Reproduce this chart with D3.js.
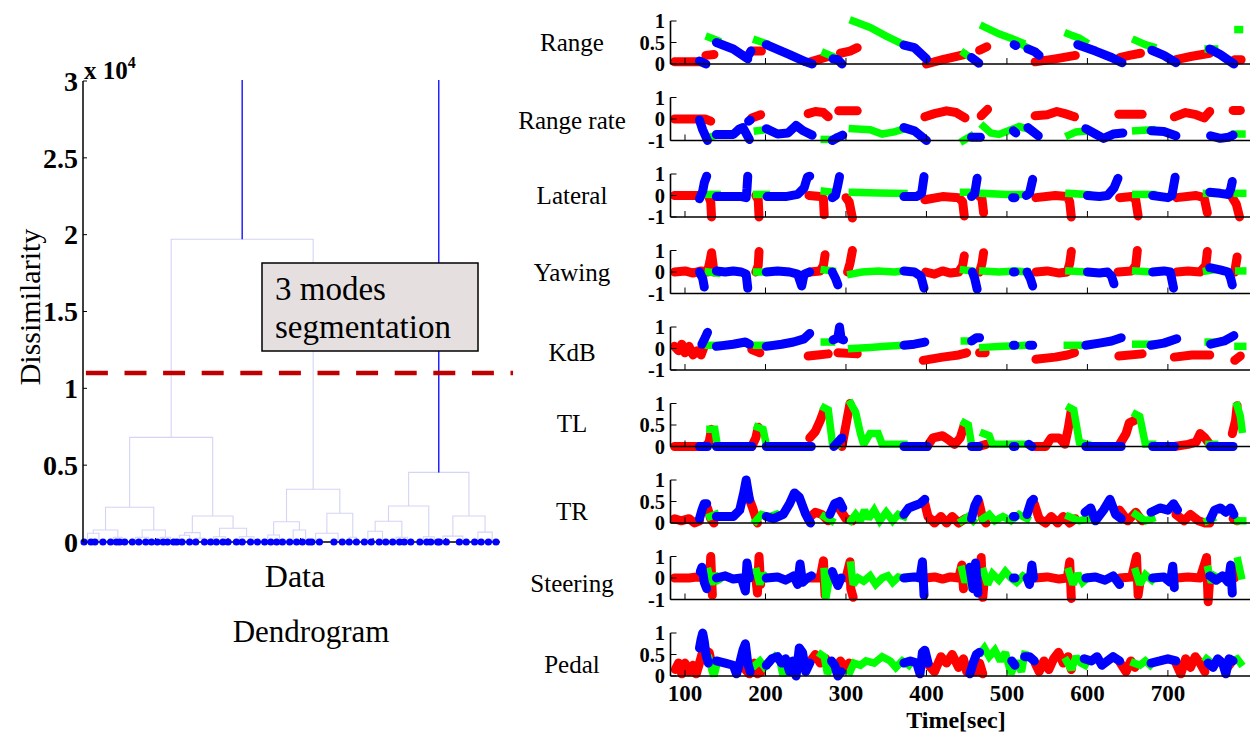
<!DOCTYPE html>
<html><head><meta charset="utf-8">
<script src="https://cdn.jsdelivr.net/npm/d3@7/dist/d3.min.js"></script>
<style>
body{margin:0;background:#fff}
svg{display:block}
text{font-family:"Liberation Serif","Times New Roman",serif;fill:#000}
</style>
</head><body>
<svg id="chart" width="1250" height="738"></svg>
<script>
// ---------------- DATA ----------------
// Dendrogram (heights in units of 1e4, leaf positions = data index)
const dendroYTicks = [0, 0.5, 1, 1.5, 2, 2.5, 3];
const dendroYTickLabels = ["0", "0.5", "1", "1.5", "2", "2.5", "3"];
const dendroXTicks = [200, 400, 600, 800, 1000];
const thresholdValue = 1.1;
const annotationLines = ["3 modes", "segmentation"];
const dendroTree =
[3.3,
  [1.97,
    [0.681,
      [0.226,
        [0.078,
          [0.057,[0.01,3,22],[0.013,33,55]],
          [0.031,[0.008,76,92],[0.008,101,115]]],
        [0.078,
          [0.031,[0.01,136,154],[0.01,173,189]],
          [0.031,[0.008,205,221],[0.008,233,250]]]],
      [0.169,
        [0.061,[0.044,[0.008,259,273],294],[0.024,311,335]],
        [0.089,
          [0.034,[0.02,352,368],[0.008,386,400]],
          [0.034,[0.01,423,439],[0.01,462,481]]]]],
    [0.343,
      [0.132,
        [0.046,[0.008,501,518],[0.008,534,550]],
        [0.078,[0.01,570,589],[0.01,605,623]]],
      [0.187,
        [0.057,[0.012,631,652],[0.015,692,715]],
        [0.031,734,754]]]],
  [0.453,
    [0.234,
      [0.135,
        [0.07,[0.01,776,795],[0.01,817,835]],
        [0.031,[0.008,854,873],[0.008,886,904]]],
      [0.034,[0.01,929,948],[0.01,959,978]]],
    [0.169,
      [0.038,[0.012,983,1002],[0.01,1038,1057]],
      [0.064,[0.01,1080,1098],[0.012,1118,1139]]]]];

// Time series panels
const panelNames = ["Range", "Range rate", "Lateral", "Yawing", "KdB", "TL", "TR", "Steering", "Pedal"];
const panelTicks = [[0,0.5,1],[-1,0,1],[-1,0,1],[-1,0,1],[-1,0,1],[0,0.5,1],[0,0.5,1],[-1,0,1],[0,0.5,1]];
const timeTicks = [100, 200, 300, 400, 500, 600, 700];
const timeDomain = [82, 802];

const rangeSeg = [
["r",[[87,.05],[121,.05]]],["b",[[118,.07],[126,0]]],["r",[[126,.2],[136,.22]]],["g",[[130,.62],[140,.55]]],
["b",[[139,.5],[160,.35],[178,.12]]],["b",[[177,.15],[182,.3]]],["r",[[182,.3],[195,.3]]],["g",[[189,.55],[200,.48]]],
["b",[[201,.45],[230,.22],[250,.05],[258,0]]],["r",[[256,.05],[279,.18]]],["g",[[274,.25],[283,.18]]],
["b",[[284,.12],[290,.1],[295,0]]],["r",[[293,.25],[305,.3],[314,.38]]],["g",[[309,1],[330,.85],[350,.65],[372,.45]]],
["b",[[372,.44],[385,.38],[400,.12]]],["r",[[400,0],[420,.1],[447,.22]]],["g",[[447,.25],[455,.15]]],
["b",[[456,.15],[465,.02]]],["r",[[466,.32],[475,.4]]],["g",[[471,.87],[490,.7],[505,.6],[518,.5]]],
["b",[[509,.45],[511,.43]]],["g",[[519,.45],[528,.35]]],["b",[[526,.35],[535,.28],[540,.2]]],
["r",[[535,.05],[560,.12],[585,.2]]],["g",[[576,.7],[590,.6],[597,.52]]],["b",[[588,.45],[610,.3],[630,.15],[643,.03]]],
["r",[[640,.15],[652,.2],[666,.25]]],["g",[[660,.55],[672,.45],[681,.4]]],["b",[[680,.32],[695,.2],[710,.03]]],
["r",[[710,.1],[730,.18],[752,.25]]],["g",[[750,.35],[758,.35]]],["b",[[752,.35],[765,.22],[782,0]]],
["r",[[783,.1],[791,.1]]],["g",[[787,.8],[789,.8]]]
];
const rangeRateSeg = [
["r",[[87,0],[125,0],[132,-0.1]]],["b",[[118,-0.05],[122,-0.5],[128,-1]]],["g",[[130,-0.85],[140,-0.75]]],
["b",[[139,-0.72],[160,-0.72],[168,-0.45],[172,-0.4],[180,-0.95]]],["b",[[179,-0.1],[181,-0.05]]],
["r",[[183,0.05],[194,0.2]]],["g",[[190,-0.55],[200,-0.5]]],
["b",[[201,-0.45],[215,-0.7],[228,-0.65],[238,-0.3],[247,-0.55],[258,-0.75]]],
["r",[[253,0.25],[262,0.35],[272,0.3],[278,0.1]]],["g",[[273,-0.95],[282,-0.95]]],["b",[[283,-1],[290,-0.85],[296,-0.75]]],
["r",[[291,0.38],[314,0.38]]],["g",[[308,-0.45],[330,-0.5],[345,-0.7],[360,-0.6],[373,-0.45]]],
["b",[[372,-0.4],[385,-0.55],[400,-1]]],["r",[[398,0.1],[410,0.25],[425,0.38],[437,0.3],[448,0.05]]],
["g",[[446,-1],[455,-0.8]]],["b",[[456,-0.85],[467,-0.85]]],["r",[[468,0.15],[476,0.45]]],
["g",[[471,-0.35],[480,-0.65],[490,-0.72],[505,-0.5],[515,-0.35],[525,-0.45]]],["b",[[508,-0.55],[511,-0.65]]],
["b",[[526,-0.4],[539,-0.78]]],["r",[[535,0.15],[550,0.2],[562,0.35],[572,0.25],[584,0.1]]],
["g",[[577,-0.75],[586,-0.6],[600,-0.55]]],["b",[[598,-0.45],[610,-0.7],[620,-0.9],[632,-0.7],[644,-0.65]]],
["r",[[639,0.22],[668,0.22]]],["g",[[660,-0.55],[680,-0.5]]],["b",[[679,-0.55],[695,-0.58],[710,-0.78]]],
["r",[[708,0.1],[722,0.3],[735,0.2],[745,0.05],[752,0.35]]],["b",[[753,-0.78],[765,-0.9],[775,-0.85],[781,-0.75]]],
["g",[[783,-0.7],[792,-0.7]]],["r",[[781,0.4],[790,0.4]]]
];
const lateralSeg = [
["r",[[87,0],[116,0]]],["b",[[118,-0.15],[122,0.2],[124,0.6],[127,0.9]]],["r",[[129,0],[132,-0.3],[133,-1]]],
["g",[[129,0.05],[140,0.05]]],["b",[[139,-0.05],[170,-0.05],[176,-0.1],[177,0.3],[178,0.9]]],
["r",[[188,0],[191,-0.2],[192,-1]]],["g",[[189,0.05],[201,0.05]]],
["b",[[202,-0.05],[225,-0.05],[240,0.05],[248,0.35],[252,0.85],[255,0.9]]],
["r",[[254,0],[268,-0.05],[272,-0.15],[273,-0.9]]],["g",[[273,0.2],[283,0.15]]],["b",[[283,-0.1],[287,0],[290,0.5],[292,0.88]]],
["r",[[300,-0.1],[304,-0.3],[308,-1.05]]],["g",[[308,0.15],[340,0.12],[372,0.1]]],
["b",[[372,-0.05],[388,-0.05],[394,0.1],[397,0.88]]],["r",[[398,-0.2],[420,-0.05],[440,-0.1],[445,-0.3],[447,-0.95]]],
["g",[[446,0.15],[456,0.15]]],["b",[[456,-0.05],[460,0.1],[463,0.8]]],["r",[[465,0],[469,-0.15],[471,-0.8]]],
["g",[[470,0.1],[500,0.05],[525,0.05]]],["b",[[507,-0.1],[510,-0.1]]],["b",[[524,0],[528,0.1],[532,0.75]]],
["r",[[536,-0.1],[560,0],[575,-0.05],[578,-0.3],[580,-1]]],["g",[[577,0.1],[600,0.05]]],
["b",[[600,0],[615,-0.05],[625,0],[633,0.35],[638,0.8]]],["r",[[640,-0.1],[655,-0.05],[660,-0.2],[663,-0.95]]],
["g",[[660,0.05],[681,0.05]]],["b",[[681,0],[700,-0.1],[705,0],[709,0.85]]],
["r",[[711,-0.1],[735,0],[745,-0.1],[749,-0.8]]],["g",[[748,0.1],[756,0.1]]],
["b",[[752,0.15],[765,0.1],[775,0.05],[778,0.3],[780,0.65]]],["r",[[780,-0.1],[785,-0.4],[789,-1]]],
["g",[[786,0.1],[793,0.1]]]
];
const yawingSeg = [
["r",[[87,0],[100,0.05],[110,-0.05],[120,0.05],[128,0],[131,0.5],[133,0.9],[136,0]]],["b",[[118,0],[122,-0.3],[124,-0.7]]],
["g",[[129,0],[140,-0.05]]],["b",[[139,0.05],[150,0],[160,0.05],[170,0],[176,-0.1],[178,-0.75]]],
["r",[[188,0],[191,0.3],[192,0.95]]],["g",[[189,0],[201,0]]],
["b",[[201,0],[215,0.05],[230,0],[240,-0.1],[245,-0.65],[248,-0.1],[255,0]]],
["r",[[255,0],[268,0.05],[272,0.3],[274,0.8]]],["g",[[273,0.1],[283,0.05]]],["b",[[283,0],[287,-0.3],[290,-0.6]]],
["r",[[302,0],[305,0.4],[308,1]]],["g",[[306,-0.1],[320,0],[340,0.05],[360,0],[372,0.05]]],
["b",[[372,0.05],[385,0],[393,-0.2],[397,-0.75]]],
["r",[[399,0],[410,-0.1],[420,0.05],[430,-0.05],[440,0],[445,0.3],[447,0.75]]],["g",[[446,0.1],[456,0.05]]],
["b",[[457,0],[460,-0.3],[463,-0.8]]],["r",[[466,0],[469,0.4],[471,0.9]]],
["g",[[470,0.05],[490,0],[510,0.05],[525,0]]],["b",[[508,0],[510,0]]],["b",[[525,0],[529,-0.3],[532,-0.65]]],
["r",[[536,0],[550,0.05],[565,-0.05],[575,0],[578,0.4],[580,0.95]]],["g",[[577,0.05],[600,0]]],
["b",[[600,0],[615,-0.05],[625,0],[630,-0.2],[633,-0.55]]],["r",[[638,0],[655,0.05],[660,0.3],[662,1]]],
["g",[[660,0.05],[681,0]]],["b",[[681,0],[695,0.05],[703,0],[707,-0.75]]],
["r",[[711,0],[725,0.05],[740,0],[747,0.3],[749,0.95]]],["g",[[748,0.05],[756,0.1]]],
["b",[[752,0.2],[765,0.1],[775,0],[778,-0.3],[780,-0.6]]],["r",[[783,0],[786,0.7]]],["g",[[788,0.05],[793,0.05]]]
];
const kdbSeg = [
["r",[[87,0.1],[92,-0.1],[96,0.2],[100,-0.2],[105,0.1],[110,-0.3],[115,-0.1],[120,-0.3],[123,0]]],
["b",[[121,0.2],[125,0.5],[128,0.75]]],["g",[[129,0.15],[140,0.15]]],["b",[[139,0.1],[160,0.2],[175,0.3],[180,0.2]]],
["r",[[183,-0.05],[193,-0.2]]],["g",[[189,0.15],[203,0.15]]],["b",[[201,0.1],[220,0.2],[235,0.3],[248,0.45],[255,0.7]]],
["r",[[253,-0.35],[265,-0.3],[278,-0.25]]],["g",[[273,0.3],[282,0.3]]],["b",[[284,0.4],[290,0.5],[292,1],[294,0.45],[297,0.4]]],
["r",[[290,-0.2],[314,-0.25]]],["g",[[307,0],[330,0.05],[350,0.1],[372,0.15]]],["b",[[372,0.15],[385,0.2],[398,0.3]]],
["r",[[396,-0.55],[420,-0.4],[440,-0.3],[450,-0.2]]],["g",[[447,0.35],[455,0.35]]],["b",[[456,0.35],[462,0.5],[466,0.5]]],
["r",[[466,-0.2],[473,-0.2]]],["g",[[470,0.05],[495,0.1],[525,0.15]]],["b",[[508,0.15],[510,0.15]]],["b",[[528,0.15],[532,0.15]]],
["r",[[536,-0.5],[560,-0.4],[575,-0.3],[584,-0.2]]],["g",[[575,0.15],[600,0.15]]],
["b",[[598,0.15],[615,0.25],[630,0.35],[642,0.5]]],["r",[[639,-0.35],[668,-0.25]]],["g",[[660,0.2],[681,0.2]]],
["b",[[679,0.15],[695,0.25],[711,0.45]]],["r",[[708,-0.4],[730,-0.3],[752,-0.3]]],["g",[[750,0.3],[758,0.3]]],
["b",[[753,0.2],[770,0.35],[782,0.6]]],["r",[[783,-0.55],[790,-0.35]]],["g",[[787,0.1],[793,0.1]]]
];
const tlSeg = [
["r",[[87,0],[125,0],[130,0.1],[133,0.4]]],["b",[[118,0],[128,0]]],["g",[[131,0.4],[137,0.4],[140,0.05]]],
["b",[[139,0],[183,0]]],["r",[[183,0],[188,0.2],[191,0.45]]],["g",[[190,0.45],[197,0.4],[201,0.05]]],
["b",[[201,0],[257,0]]],["r",[[255,0.2],[262,0.35],[268,0.6],[273,0.85]]],["g",[[273,0.9],[278,0.85],[283,0.1],[290,0.05]]],
["b",[[285,0],[290,0.1],[295,0.2]]],["r",[[295,0],[300,0.5],[305,1]]],
["g",[[306,1],[312,0.8],[318,0.3],[322,0.05],[330,0.3],[340,0.3],[345,0.05],[372,0.05]]],
["b",[[372,0],[401,0]]],["r",[[401,0],[408,0.2],[420,0.25],[428,0.15],[435,0.05],[442,0.2],[447,0.5]]],
["g",[[447,0.55],[452,0.5],[456,0.05]]],["b",[[456,0],[465,0]]],["r",[[465,0],[474,0.05]]],
["g",[[471,0.3],[478,0.25],[482,0.05],[525,0.05]]],["b",[[508,0],[510,0]]],["b",[[527,0.05],[531,0]]],
["r",[[535,0],[548,0],[555,0.2],[565,0.2],[572,0.05],[576,0.4],[580,0.85]]],["g",[[578,0.9],[583,0.85],[590,0.1],[600,0.05]]],
["b",[[598,0],[642,0]]],["r",[[640,0.05],[648,0.3],[652,0.55],[658,0.6],[662,0.7]]],
["g",[[660,0.75],[665,0.7],[672,0.05],[681,0.05]]],["b",[[681,0],[708,0]]],
["r",[[708,0],[725,0.05],[735,0.1],[740,0.3],[746,0.2],[752,0.05]]],["g",[[751,0.05],[758,0.05]]],
["b",[[753,0],[781,0]]],["r",[[780,0.3],[784,0.6],[786,0.95]]],["g",[[786,0.95],[790,0.7],[792,0.4]]]
];
const trSeg = [
["r",[[87,0.1],[95,0.05],[105,0.1],[112,0],[118,0.05]]],["b",[[118,0.1],[121,0.3],[124,0.45],[127,0.45]]],
["r",[[128,0.35],[132,0.1],[136,0]]],["g",[[131,0.15],[138,0.2]]],
["b",[[139,0.15],[160,0.15],[168,0.3],[173,0.7],[176,1],[180,0.55]]],["r",[[179,0.6],[184,0.35],[190,0]]],
["g",[[188,0.05],[195,0.2],[205,0.15],[213,0.2]]],
["b",[[201,0.15],[210,0.1],[222,0.2],[230,0.45],[236,0.7],[242,0.6],[250,0.2],[256,0]]],
["r",[[253,0.1],[262,0.25],[270,0.2],[278,0.05]]],["g",[[273,0.15],[282,0.05]]],["b",[[280,0.2],[286,0.45],[292,0.5],[296,0.35]]],
["r",[[293,0.3],[300,0.1],[308,0.05]]],
["g",[[306,0.05],[312,0.2],[318,0.05],[323,0.3],[328,0.1],[335,0.3],[342,0.05],[350,0.25],[358,0.05],[365,0.2],[372,0.15]]],
["b",[[372,0.2],[378,0.35],[385,0.4],[392,0.45],[398,0.55]]],
["r",[[398,0.45],[402,0.15],[410,0],[418,0.15],[425,0],[432,0.15],[440,0],[448,0.1]]],
["g",[[444,0.05],[452,0.15],[458,0.05]]],["b",[[456,0.1],[460,0.4],[464,0.55]]],["r",[[465,0.5],[470,0.1],[474,0]]],
["g",[[470,0.1],[478,0.2],[485,0.05],[495,0.15],[505,0.05],[515,0.2],[525,0.1]]],["b",[[508,0.15],[510,0.15]]],
["b",[[525,0.2],[530,0.5],[533,0.55]]],["r",[[534,0.45],[540,0.1],[548,0],[555,0.15],[563,0],[570,0.15],[578,0],[585,0.1]]],
["g",[[577,0.15],[590,0.05],[600,0.1]]],["b",[[597,0.25],[604,0.35],[610,0.05],[620,0.3],[628,0.55],[635,0.2],[642,0.1]]],
["r",[[640,0.3],[650,0.05],[660,0.25],[668,0.05]]],["g",[[660,0.2],[672,0.05],[680,0.1]]],
["b",[[679,0.25],[690,0.35],[700,0.3],[707,0.45],[712,0.3]]],["r",[[710,0.2],[720,0.05],[728,0.2],[738,0.05],[746,0],[752,0]]],
["g",[[749,0.05],[755,0.1]]],["b",[[753,0.1],[758,0.3],[765,0.35],[772,0.25],[778,0.35],[782,0.2]]],
["r",[[781,0.1],[786,0.05]]],["g",[[787,0.05],[793,0.05]]]
];
const steeringSeg = [
["r",[[87,0],[105,0],[115,0.05],[125,0],[130,-0.3],[131,0.2],[132,1],[134,-0.8]]],["b",[[119,0.3],[121,0.5],[124,-0.2],[127,-0.5]]],
["g",[[129,0.3],[133,-0.3],[137,0.2],[141,-0.1]]],["b",[[139,0],[150,0.1],[160,-0.05],[170,0],[175,-0.6],[177,0.7],[180,0]]],
["r",[[188,0],[190,-0.7],[192,1],[194,-0.3]]],["g",[[189,0.3],[193,-0.3],[197,0.2],[201,0]]],
["b",[[201,0],[215,0.05],[225,-0.1],[235,0.1],[240,-0.3],[243,0.65],[246,-0.2],[252,0],[257,0.1]]],
["r",[[255,0],[268,0],[272,0.8],[274,-0.8],[276,0]]],["g",[[273,0.3],[275,-0.95],[280,0.1],[285,0]]],
["b",[[283,0.3],[286,0],[290,-0.35],[294,0]]],["r",[[300,0],[305,0.75],[306,-0.5],[309,-0.9]]],
["g",[[306,0.6],[309,-0.3],[315,0],[322,-0.15],[330,0.1],[337,-0.3],[345,0],[352,0.1],[358,-0.2],[365,0.05],[372,0]]],
["b",[[372,0],[385,0.05],[392,0],[395,0.75],[397,-0.8]]],
["r",[[399,0],[410,0.05],[420,-0.05],[430,0.05],[440,0],[444,0.6],[446,-0.5]]],["g",[[444,0.4],[448,-0.2],[452,0.3],[456,-0.4]]],
["b",[[454,0.5],[458,-0.5],[461,0.7],[464,-0.7]]],["r",[[466,0],[468,0.95],[470,-0.9],[472,0]]],
["g",[[471,0.3],[476,-0.3],[482,0.2],[490,-0.1],[498,0.3],[505,0],[512,-0.2],[520,0.1],[525,0]]],["b",[[508,0],[510,0]]],
["b",[[525,0],[528,-0.3],[531,0.6],[533,0]]],["r",[[535,0],[550,0.05],[565,-0.05],[575,0],[578,0.75],[580,-0.95]]],
["g",[[577,0.3],[582,-0.3],[588,0.2],[594,-0.2],[600,0]]],["b",[[598,0],[610,0.05],[622,-0.1],[632,0.1],[640,-0.3]]],
["r",[[640,0],[655,0.05],[661,1],[663,-0.8],[666,0]]],["g",[[660,0.3],[665,-0.3],[672,0.15],[680,-0.1]]],
["b",[[681,0],[695,0.05],[703,-0.2],[706,0.55],[708,-0.45]]],["r",[[711,0],[725,0.05],[740,0],[748,0.95],[750,-1.1],[752,0]]],
["g",[[750,0.4],[754,-0.2],[758,0.1]]],["b",[[752,0.1],[760,-0.1],[768,0.1],[775,-0.2],[778,0.6],[780,-0.7]]],
["r",[[783,0],[786,0.45]]],["g",[[787,0.8],[791,0.1]]]
];
const pedalSeg = [
["r",[[88,0.15],[92,0.3],[96,0.05],[100,0.3],[105,0.1],[110,0.25],[114,0.05],[118,0.3],[121,0.5],[124,0.6],[127,0.45]]],
["b",[[118,0.65],[120,0.85],[122,1],[124,0.8],[126,0.5],[129,0.3]]],["r",[[125,0.6],[130,0.55],[133,0.3]]],
["g",[[130,0.4],[134,0.1],[136,0],[140,0.3]]],
["b",[[139,0.35],[150,0.3],[160,0.25],[164,0.05],[168,0.3],[172,0.6],[175,0.75],[178,0.3],[181,0.1]]],
["r",[[175,0.15],[180,0.05],[186,0.3],[190,0.05],[195,0.1]]],["g",[[187,0.25],[193,0.35],[199,0.2]]],
["g",[[212,0.45],[218,0.35],[222,0],[226,0.35]]],
["b",[[201,0.25],[208,0.4],[215,0.45],[220,0.3],[225,0.4],[230,0.1],[234,0.35],[238,0],[242,0.65],[246,0.55],[250,0.1],[255,0.3]]],
["r",[[250,0.2],[256,0.35],[262,0.5],[268,0.3],[275,0.4]]],["g",[[269,0.5],[273,0.45],[277,0.05],[281,0.2]]],
["b",[[282,0.35],[286,0.25],[290,0],[294,0.1]]],["r",[[293,0.35],[298,0.2],[304,0.3]]],
["g",[[305,0.1],[310,0.3],[318,0.25],[325,0.35],[335,0.3],[345,0.45],[355,0.35],[362,0.2],[370,0.35],[378,0.25]]],
["b",[[372,0.3],[380,0.35],[388,0.3],[392,0.05],[395,0.55],[398,0.6],[402,0.3]]],
["r",[[403,0.25],[410,0.1],[418,0.45],[425,0.3],[432,0.5],[440,0.2],[446,0.4],[450,0.1]]],
["b",[[454,0.05],[458,0.3],[462,0.5],[466,0.55]]],["r",[[462,0.1],[466,0.3],[470,0.05]]],
["g",[[468,0.55],[472,0.65],[478,0.45],[485,0.6],[492,0.35],[498,0.55],[505,0.05],[512,0.35],[518,0.1],[522,0.5]]],
["b",[[506,0.35],[510,0.25]]],["b",[[522,0.45],[528,0.45],[534,0.35]]],
["r",[[535,0.3],[540,0.1],[546,0.35],[552,0.15],[558,0.4],[564,0.55],[570,0.3],[576,0.45],[580,0.15]]],
["g",[[574,0.35],[580,0.15],[586,0.45],[592,0.3],[597,0.25]]],
["b",[[596,0.4],[605,0.35],[612,0.45],[618,0.25],[625,0.35],[632,0.45],[640,0.35]]],
["r",[[641,0.3],[648,0.1],[654,0.35],[659,0.2]]],["g",[[658,0.3],[665,0.25],[672,0.35],[678,0.25]]],
["b",[[679,0.3],[690,0.35],[700,0.4],[710,0.35]]],
["r",[[710,0.3],[716,0.05],[722,0.4],[728,0.2],[734,0.45],[740,0.3],[746,0.1]]],["g",[[748,0.4],[755,0.3]]],
["r",[[772,0.15],[778,0.3]]],["b",[[750,0.3],[756,0.2],[762,0.4],[768,0.3],[772,0.05],[776,0.4],[781,0.35]]],
["g",[[780,0.35],[786,0.4],[790,0.3]]]
];
const panelSegments = [rangeSeg, rangeRateSeg, lateralSeg, yawingSeg, kdbSeg, tlSeg, trSeg, steeringSeg, pedalSeg];

// ---------------- LAYOUT / STYLE ----------------
const svg = d3.select("#chart");
svg.append("rect").attr("width",1250).attr("height",738).attr("fill","#fff");

// ---- Dendrogram ----
const dX = d3.scaleLinear().domain([0, 1150]).range([83, 500]);
const dY = d3.scaleLinear().domain([0, 3]).range([542, 81]);
const dg = svg.append("g");
svg.append("defs").append("clipPath").attr("id","dclip")
  .append("rect").attr("x",60).attr("y",80).attr("width",470).attr("height",470);

function layoutTree(node){
  if (typeof node === "number") return {x:node, h:0, leaf:true};
  const l = layoutTree(node[1]), r = layoutTree(node[2]);
  return {x:(l.x + r.x)/2, h:node[0], l, r};
}
const root = layoutTree(dendroTree);
const links = [], leaves = [];
(function walk(n, depth){
  if (n.leaf){ leaves.push(n.x); return; }
  links.push({n, depth});
  walk(n.l, depth+1); walk(n.r, depth+1);
})(root, 0);

// baseline axis
dg.append("line").attr("x1",83).attr("x2",500).attr("y1",dY(0)).attr("y2",dY(0))
  .attr("stroke","#000").attr("stroke-width",1.5);
dendroXTicks.forEach(t=>{
  dg.append("line").attr("x1",dX(t)).attr("x2",dX(t)).attr("y1",dY(0)).attr("y2",dY(0)-4)
    .attr("stroke","#000").attr("stroke-width",1);
});
const linkG = dg.append("g").attr("clip-path","url(#dclip)");
links.slice().reverse().forEach(({n, depth})=>{
  const p = d3.path();
  p.moveTo(dX(n.l.x), dY(n.l.h));
  p.lineTo(dX(n.l.x), dY(n.h));
  p.lineTo(dX(n.r.x), dY(n.h));
  p.lineTo(dX(n.r.x), dY(n.r.h));
  linkG.append("path").attr("d", p.toString()).attr("fill","none")
    .attr("stroke", depth===0 ? "#0000ff" : "#d4d4f6")
    .attr("stroke-width", depth===0 ? 1.3 : 1.1);
});
dg.selectAll("circle.leaf").data(leaves).enter().append("circle")
  .attr("cx", d=>dX(d)).attr("cy", dY(0)).attr("r", 3.6).attr("fill","#0000ff");

// y axis
dg.append("line").attr("x1",83).attr("x2",83).attr("y1",dY(3)).attr("y2",dY(0))
  .attr("stroke","#000").attr("stroke-width",1.5);
dendroYTicks.forEach((t,i)=>{
  dg.append("line").attr("x1",83).attr("x2",87).attr("y1",dY(t)).attr("y2",dY(t)).attr("stroke","#000");
  dg.append("text").attr("x",78).attr("y",dY(t)).attr("dy","0.35em").attr("text-anchor","end")
    .attr("font-size",28).attr("font-weight","bold").text(dendroYTickLabels[i]);
});
const expo = dg.append("text").attr("x",84).attr("y",79).attr("font-size",25).attr("font-weight","bold");
expo.append("tspan").text("x 10");
expo.append("tspan").attr("dy",-11).attr("font-size",16).text("4");

dg.append("text").attr("transform","translate(40,307) rotate(-90)").attr("text-anchor","middle")
  .attr("font-size",30).text("Dissimilarity");
dg.append("text").attr("x",295).attr("y",587).attr("text-anchor","middle").attr("font-size",32).text("Data");
dg.append("text").attr("x",311).attr("y",642).attr("text-anchor","middle").attr("font-size",31).text("Dendrogram");

// threshold line
dg.append("line").attr("x1",dX(8)).attr("x2",dX(1186)).attr("y1",dY(thresholdValue)).attr("y2",dY(thresholdValue))
  .attr("stroke","#c00000").attr("stroke-width",4.5).attr("stroke-dasharray","22 16.6");

// annotation box
dg.append("rect").attr("x",262).attr("y",263).attr("width",216).attr("height",88)
  .attr("fill","#e6dfdf").attr("stroke","#000").attr("stroke-width",1.5);
annotationLines.forEach((s,i)=>{
  dg.append("text").attr("x",275).attr("y",300 + i*38).attr("font-size",33).text(s);
});

// ---- Time series panels ----
const tX = d3.scaleLinear().domain(timeDomain).range([670.5, 1250]);
const colors = {r:"#ff0000", g:"#00ff00", b:"#0000ff"};
const labelShift = [0.5, 2.5, 1, 1, 5, -0.5, 10.5, 6, 10.5];
panelNames.forEach((name,k)=>{
  const bottom = 64 + k*76.5, top = bottom - 43;
  const ticks = panelTicks[k];
  const y = d3.scaleLinear().domain([ticks[0], ticks[2]]).range([bottom, top]);
  const g = svg.append("g");
  const line = d3.line().x(d=>tX(d[0])).y(d=>y(d[1]));
  ["r","g","b"].forEach(c=>{
    panelSegments[k].filter(s=>s[0]===c).forEach(s=>{
      g.append("path").attr("d", line(s[1])).attr("fill","none").attr("stroke", colors[c])
        .attr("stroke-width", c==="g" ? 7.5 : 9)
        .attr("stroke-linecap", c==="g" ? "square" : "round")
        .attr("stroke-linejoin", c==="g" ? "miter" : "round")
        .attr("stroke-miterlimit", 2);
    });
  });
  // axes
  g.append("line").attr("x1",tX(timeDomain[0])).attr("x2",tX(timeDomain[1])).attr("y1",bottom).attr("y2",bottom)
    .attr("stroke","#000").attr("stroke-width",1.6);
  g.append("line").attr("x1",tX(timeDomain[0])).attr("x2",tX(timeDomain[0])).attr("y1",top).attr("y2",bottom)
    .attr("stroke","#000").attr("stroke-width",1.6);
  timeTicks.forEach(t=>{
    g.append("line").attr("x1",tX(t)).attr("x2",tX(t)).attr("y1",bottom).attr("y2",bottom-6).attr("stroke","#000");
  });
  ticks.forEach(v=>{
    g.append("line").attr("x1",tX(timeDomain[0])).attr("x2",tX(timeDomain[0])+6).attr("y1",y(v)).attr("y2",y(v)).attr("stroke","#000");
    g.append("text").attr("x",665).attr("y",y(v)).attr("dy","0.35em").attr("text-anchor","end")
      .attr("font-size",20.5).attr("font-weight","bold").text(String(v));
  });
  g.append("text").attr("x",572).attr("y",(top+bottom)/2 + labelShift[k]).attr("dy","0.3em")
    .attr("text-anchor","middle").attr("font-size",25).text(name);
  if (k === panelNames.length-1){
    timeTicks.forEach(t=>{
      g.append("text").attr("x",tX(t)).attr("y",701).attr("text-anchor","middle")
        .attr("font-size",23).attr("font-weight","bold").text(String(t));
    });
    g.append("text").attr("x",956).attr("y",728).attr("text-anchor","middle")
      .attr("font-size",24).attr("font-weight","bold").text("Time[sec]");
  }
});
</script>
</body></html>
